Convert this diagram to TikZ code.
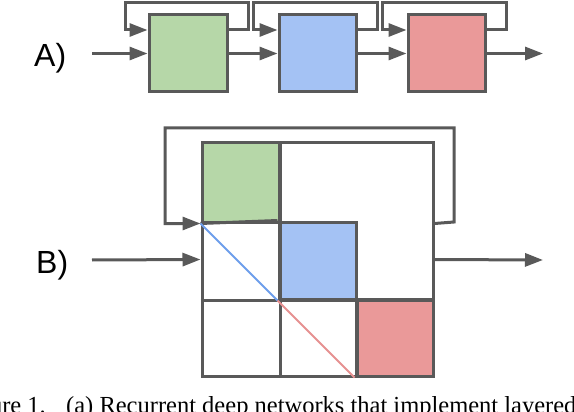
\documentclass[tikz,border=0pt]{standalone}
\usepackage{fontspec}
\setmainfont{Liberation Serif}
\newfontfamily\labfont{Liberation Sans}
\usetikzlibrary{arrows.meta}
\definecolor{edge}{HTML}{595959}
\definecolor{cg}{HTML}{B6D7A8}
\definecolor{cb}{HTML}{A4C2F4}
\definecolor{cr}{HTML}{EA9999}
\definecolor{lb}{HTML}{6D9EEB}
\definecolor{lr}{HTML}{E69191}
\tikzset{
  blk/.style={draw=edge, line width=3pt, inner sep=0pt, minimum width=77pt, minimum height=77pt},
  conn/.style={draw=edge, line width=3pt, -{Triangle[length=18pt,width=13pt]}},
  gridline/.style={draw=edge, line width=3pt},
  lbl/.style={font=\labfont\fontsize{32}{36}\selectfont, anchor=base west, inner sep=0pt},
  captext/.style={font=\fontsize{24.5}{28}\selectfont, inner sep=0pt}
}
\begin{document}
\begin{tikzpicture}[x=1pt,y=-1pt]
\useasboundingbox (0,0) rectangle (574,412);
% ---------- Panel A ----------
\node[lbl] (la) at (34,67) {A)};
\node[blk, fill=cg, minimum width=78pt] (gA) at (188,53.5) {};
\node[blk, fill=cb] (bA) at (317.5,53.5) {};
\node[blk, fill=cr] (rA) at (446.5,53.5) {};
\coordinate (inA) at (92,53.5);
\coordinate (outA) at (543,53.5);
\draw[conn] (inA) -- (gA.west);
\draw[conn] (gA.east) -- (bA.west);
\draw[conn] (bA.east) -- (rA.west);
\draw[conn] (rA.east) -- (outA);
\draw[conn] ([yshift=23.5pt]gA.east) -- (248,30) |- (125,3) |- ([yshift=23.5pt]gA.west);
\draw[conn] ([yshift=23.5pt]bA.east) -- (377,30) |- (253,3) |- ([yshift=23.5pt]bA.west);
\draw[conn] ([yshift=23.5pt]rA.east) -- (506,30) |- (382,3) |- ([yshift=23.5pt]rA.west);
% ---------- Panel B ----------
\node[lbl] (lbB) at (36,273) {B)};
\node[blk, minimum width=231pt, minimum height=233pt] (grid) at (317.5,259.5) {};
\node[blk, fill=cg, minimum height=79pt] (gB) at (240.5,182.5) {};
\node[blk, fill=cb] (bB) at (317.5,260.5) {};
\node[blk, fill=cr] (rB) at (394.5,337.5) {};
\draw[gridline] (gB.north east) -- (gB.north east |- grid.south);
\draw[gridline] (gB.south west) -- (bB.north west);
\draw[gridline] (bB.south east) -- (bB.south east |- grid.south);
\draw[gridline] (grid.west |- bB.south) -- (grid.east |- bB.south);
\draw[lb, line width=2pt] (gB.south west) -- (bB.south west);
\draw[lr, line width=2pt] (bB.south west) -- (rB.south west);
\coordinate (inB) at (92,260);
\coordinate (outB) at (543,260);
\draw[conn] (inB) -- (grid.west);
\draw[conn] (grid.east) -- (outB);
\draw[conn] (grid.east |- gB.south) -- (454,222) |- (165,128) |- (gB.south west);
% ---------- caption (cut off as in the reference) ----------
\node[captext, anchor=base east] (c1) at (46,413) {ure 1.};
\node[captext, anchor=base west] (c2) at (66,413) {(a) Recurrent deep networks that implement layered};
\end{tikzpicture}
\end{document}
